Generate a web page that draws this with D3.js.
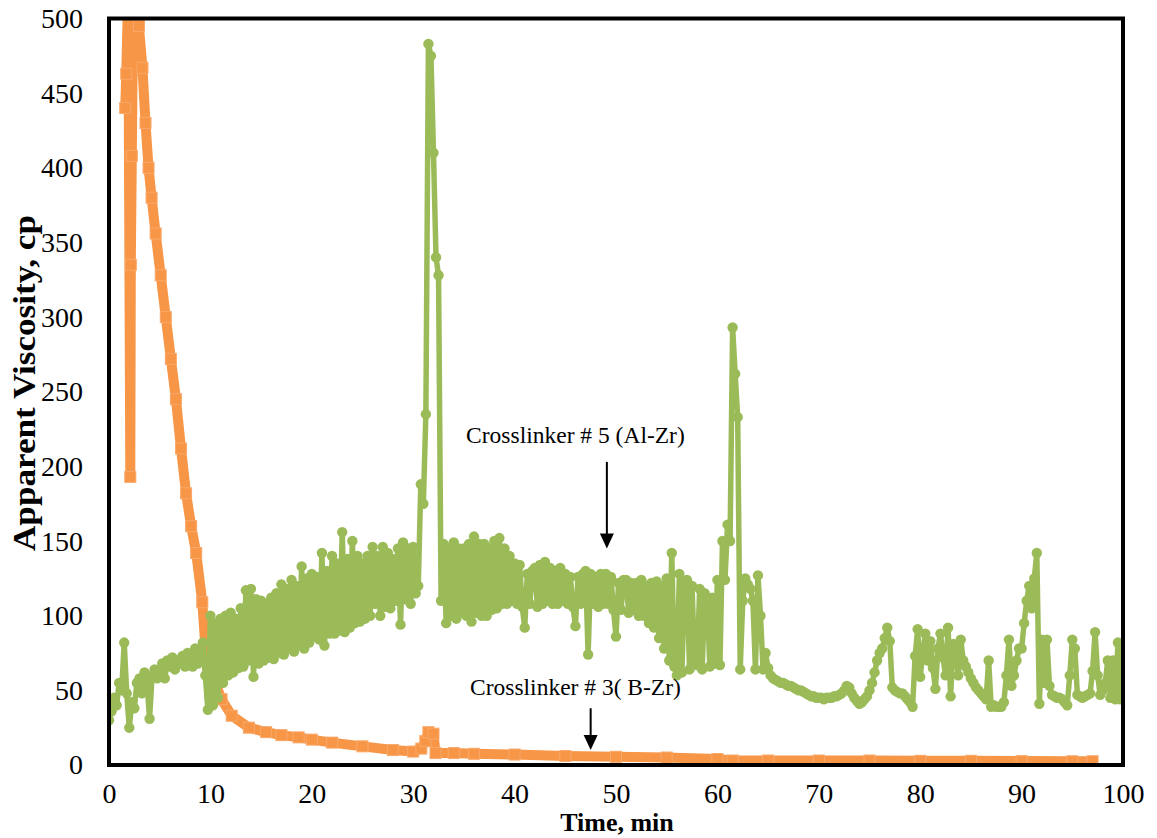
<!DOCTYPE html>
<html>
<head>
<meta charset="utf-8">
<script src="https://cdn.jsdelivr.net/npm/d3@7"></script>
<style>
  body { margin: 0; background: #fff; }
  svg text { font-family: "Liberation Serif", "Times New Roman", serif; }
</style>
</head>
<body>
<div id="chart"></div>
<script>
// Crosslinker #5 (Al-Zr) - sampled every 0.25 min, one row per minute
var alZrStep = 0.25;
var alZrVisc = [
  30,36,45,40,   55,50,82,48,   25,42,38,55,   58,48,62,55,   31,60,64,58,
  62,68,58,70,   66,72,64,70,   68,73,66,75,   70,66,78,68,   72,82,60,37,
  100,40,95,45,  98,55,100,60,  102,62,98,65,  105,66,117,70, 118,59,111,68,
  110,70,108,72, 112,71,115,75, 121,74,118,78, 124,76,120,80, 133,78,125,82,
  128,86,126,84, 142,80,130,88, 140,88,135,90, 156,89,138,92, 150,95,140,96,
  135,98,140,100, 146,108,140,100, 146,106,142,105, 138,110,145,94, 149,111,145,108,
  146,115,120,188, 175,235,483,475, 410,340,328,110, 148,95,145,100, 149,98,145,102,
  145,100,148,96, 153,102,148,100, 148,100,145,104, 150,105,152,108, 145,108,140,110,
  135,108,134,106, 92,128,108,130, 132,106,134,108, 136,110,132,108, 130,108,132,110,
  128,108,126,106, 93,126,108,128, 130,74,128,108, 126,106,128,108, 128,108,126,104,
  86,122,104,124, 124,102,122,104, 122,100,124,100, 120,95,122,92, 123,85,120,78,
  125,70,142,66,  60,128,62,122,  124,64,120,68,  67,118,64,115,  110,66,112,68,
  124,67,150,124, 161,150,293,262, 233,64,110,125, 121,118,110,64, 127,100,64,75,
  65,60,58,57,   56,55,55,54,   53,53,52,51,   50,50,49,48,   47,46,46,45,
  45,45,44,45,   45,45,46,46,   47,48,50,53,   52,48,45,43,   41,42,44,46,
  50,55,62,70,   75,78,85,92,   83,52,50,49,   48,48,46,44,   42,39,73,91,
  59,75,88,70,   83,65,51,78,   88,72,60,92,   46,81,78,60,   84,70,66,62,
  58,55,52,50,   48,46,44,70,   39,40,39,39,   39,42,60,84,   53,60,70,78,
  78,95,110,120, 105,125,142,41, 84,55,84,53,  47,46,45,45,   44,42,40,60,
  84,78,47,46,   45,46,47,48,   63,89,60,47,   50,55,70,45,   70,44,82,44
];

// Crosslinker #3 (B-Zr)
var bZrTime = [1.6, 1.7, 1.9, 2.1, 2.15, 2.25, 2.4, 2.7, 2.95, 3.3, 3.6, 3.9, 4.2, 4.6, 5.1, 5.6,
  6.1, 6.6, 7.1, 7.6, 8.1, 8.6, 9.2, 9.5, 10.2, 11.1, 12.1, 13.8, 15.5, 17, 18.7, 20, 22, 25,
  28, 30, 30.8, 31.2, 31.5, 32.0, 32.2, 34, 36, 40, 45, 50, 55, 60, 61.5, 65, 70, 75, 80, 85,
  90, 95, 97];
var bZrVisc = [440, 463, 520, 193, 335, 408, 520, 520, 495, 467, 430, 400, 380, 356, 328, 300,
  272, 245, 212, 182, 160, 142, 109, 80, 60, 44, 33, 25, 22, 20, 18.5, 17, 15, 12.5,
  10, 9, 11, 16, 22, 21, 8, 8, 7.5, 7, 6, 5.5, 5, 4, 3, 3, 3, 3, 2.8, 2.8,
  2.6, 2.5, 2.5];

var xTicks = [0, 10, 20, 30, 40, 50, 60, 70, 80, 90, 100];
var yTicks = [0, 50, 100, 150, 200, 250, 300, 350, 400, 450, 500];

var notes = [
  {label: "Crosslinker # 5 (Al-Zr)", tx: 46, ty: 216, ax: 49.1, from: 203, to: 145},
  {label: "Crosslinker # 3( B-Zr)", tx: 46, ty: 47, ax: 47.5, from: 38, to: 10}
];

var width = 1157, height = 838;
var green = "#9BBB59", orange = "#F79646";
var serif = "'Liberation Serif', 'Times New Roman', serif";

var svg = d3.select("#chart").append("svg")
  .attr("width", width)
  .attr("height", height);

var x = d3.scaleLinear().domain([0, 100]).range([109, 1123]);
var y = d3.scaleLinear().domain([0, 500]).range([765, 18.5]);

svg.append("clipPath").attr("id", "plotclip")
  .append("rect")
  .attr("x", x(0)).attr("y", y(500))
  .attr("width", x(100) - x(0)).attr("height", y(0) - y(500));

var alZr = alZrVisc.map(function (v, i) { return {t: i * alZrStep, v: v}; });
var bZr = bZrTime.map(function (t, i) { return {t: t, v: bZrVisc[i]}; });

var line = d3.line().x(d => x(d.t)).y(d => y(d.v));

var plot = svg.append("g").attr("clip-path", "url(#plotclip)");

// orange series
plot.append("path")
  .datum(bZr)
  .attr("d", line)
  .attr("fill", "none")
  .attr("stroke", orange)
  .attr("stroke-width", 10)
  .attr("stroke-linejoin", "round");
plot.append("g").selectAll("rect")
  .data(bZr)
  .enter()
  .append("rect")
  .attr("x", d => x(d.t) - 5.5)
  .attr("y", d => y(d.v) - 5.5)
  .attr("width", 11)
  .attr("height", 11)
  .attr("fill", orange)
  .attr("stroke", "#F9A96B")
  .attr("stroke-width", 1);

// green series
plot.append("path")
  .datum(alZr)
  .attr("d", line)
  .attr("fill", "none")
  .attr("stroke", green)
  .attr("stroke-width", 5.5)
  .attr("stroke-linejoin", "round");
plot.append("g").selectAll("circle")
  .data(alZr)
  .enter()
  .append("circle")
  .attr("cx", d => x(d.t))
  .attr("cy", d => y(d.v))
  .attr("r", 5.2)
  .attr("fill", green);

// frame
svg.append("rect")
  .attr("x", x(0)).attr("y", y(500))
  .attr("width", x(100) - x(0)).attr("height", y(0) - y(500))
  .attr("fill", "none")
  .attr("stroke", "#000")
  .attr("stroke-width", 4);

// axes
var xAxis = svg.append("g")
  .attr("transform", "translate(0," + y(0) + ")")
  .call(d3.axisBottom(x).tickValues(xTicks).tickSize(0).tickPadding(18));
var yAxis = svg.append("g")
  .attr("transform", "translate(" + x(0) + ",0)")
  .call(d3.axisLeft(y).tickValues(yTicks).tickSize(0).tickPadding(26));
[xAxis, yAxis].forEach(function (a) {
  a.select(".domain").remove();
  a.selectAll("text")
    .style("font-family", serif)
    .style("font-size", "28px")
    .attr("fill", "#000");
});

svg.append("text")
  .attr("x", 617).attr("y", 831)
  .attr("text-anchor", "middle")
  .style("font-family", serif)
  .style("font-size", "26px")
  .style("font-weight", "bold")
  .text("Time, min");

svg.append("text")
  .attr("transform", "translate(35,383) rotate(-90)")
  .attr("text-anchor", "middle")
  .attr("textLength", 336)
  .attr("lengthAdjust", "spacingAndGlyphs")
  .style("font-family", serif)
  .style("font-size", "31px")
  .style("font-weight", "bold")
  .text("Apparent Viscosity, cp");

// annotations with arrows
notes.forEach(function (n) {
  svg.append("text")
    .attr("x", x(n.tx)).attr("y", y(n.ty))
    .attr("text-anchor", "middle")
    .style("font-family", serif)
    .style("font-size", "23.5px")
    .text(n.label);
  var ax = x(n.ax), y1 = y(n.from), y2 = y(n.to);
  svg.append("line")
    .attr("x1", ax).attr("x2", ax)
    .attr("y1", y1).attr("y2", y2 - 12)
    .attr("stroke", "#000")
    .attr("stroke-width", 2);
  svg.append("path")
    .attr("d", "M" + (ax - 7) + "," + (y2 - 15) + "L" + (ax + 7) + "," + (y2 - 15) + "L" + ax + "," + y2 + "Z")
    .attr("fill", "#000");
});
</script>
</body>
</html>
